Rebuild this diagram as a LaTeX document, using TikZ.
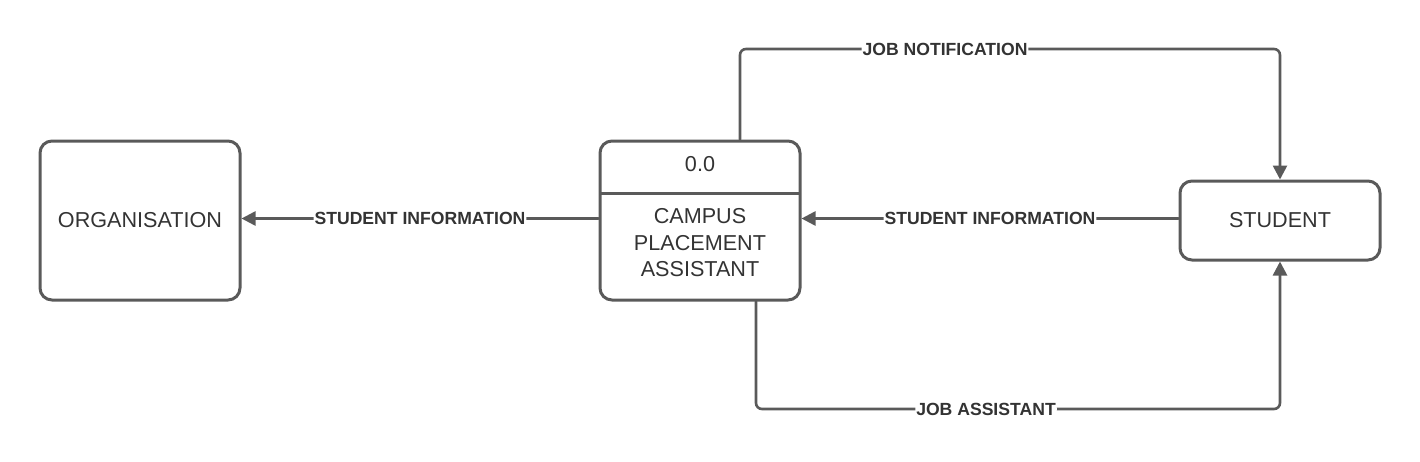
\documentclass[tikz,border=0pt]{standalone}
\usepackage{fontspec}
\setmainfont{Liberation Sans}
\usetikzlibrary{arrows.meta}
\definecolor{linegray}{HTML}{5A5A5A}
\definecolor{textgray}{HTML}{333333}

\begin{document}
\begin{tikzpicture}[x=0.5pt,y=-0.5pt,>={Triangle[length=7pt,width=7pt]},line cap=round,
				entity/.style={draw=linegray,line width=1.5pt,rounded corners=6pt,text=textgray,
					minimum width=100pt,align=center,font=\fontsize{10.8}{13.25}\selectfont},
				flow/.style={->,draw=linegray,line width=1.3pt,rounded corners=3pt},
				lbl/.style={fill=white,inner sep=0.5pt,text=textgray,font=\fontsize{8.8}{10}\selectfont\bfseries}]
				\useasboundingbox (0,0) rectangle (1420,461);
				% external entities
				\node[entity,minimum height=79.5pt] (org) at (140,220.5) {ORGANISATION};
				\node[entity,minimum height=39.5pt] (stud) at (1280,220.5) {STUDENT};
				% process
				\node[entity,minimum height=79.5pt] (proc) at (700,220.5) {};
				\draw[linegray,line width=1.5pt,line cap=butt,shorten <=0.75pt,shorten >=0.75pt]
					([yshift=-27pt]proc.north west) -- ([yshift=-27pt]proc.north east);
				\node[text=textgray,font=\fontsize{10.8}{13.25}\selectfont] (procid) at (700,164) {0.0};
				\node[text=textgray,align=center,font=\fontsize{10.8}{13.25}\selectfont] (procname) at (700,243) {CAMPUS\\PLACEMENT\\ASSISTANT};
				% data flows
				\draw[flow] ([yshift=1pt]proc.west) -- node[lbl]{STUDENT INFORMATION} ([yshift=1pt]org.east);
				\draw[flow] ([yshift=1pt]stud.west) -- node[lbl]{STUDENT INFORMATION} ([yshift=1pt]proc.east);
				\draw[flow] ([xshift=20pt]proc.north) |- (945,49) node[lbl]{JOB NOTIFICATION} -| (stud.north);
				\draw[flow] ([xshift=28pt]proc.south) |- (986,409) node[lbl]{JOB ASSISTANT} -| (stud.south);
			\end{tikzpicture}
\end{document}
